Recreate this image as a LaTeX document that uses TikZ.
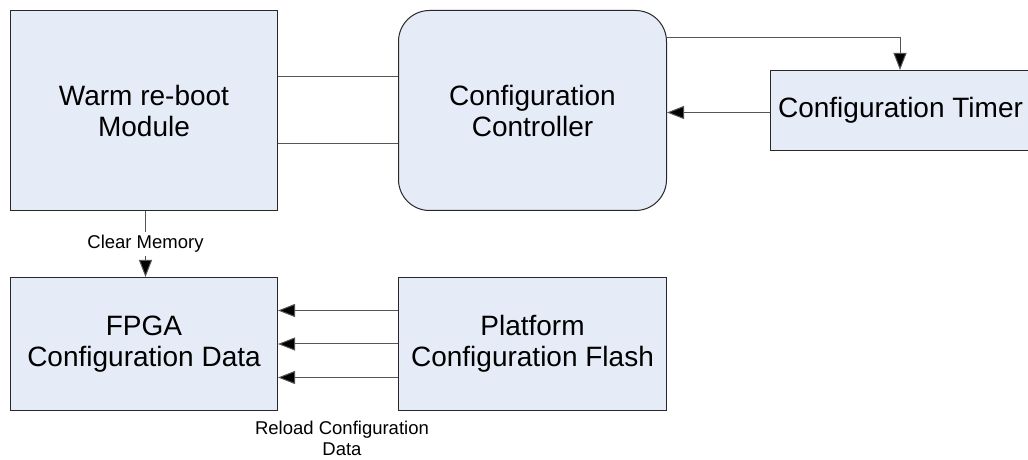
\documentclass[tikz,border=0pt]{standalone}
\usepackage{fontspec}
\setmainfont{Liberation Sans}
\usetikzlibrary{arrows.meta}
\definecolor{boxfill}{RGB}{230,236,247}
\definecolor{boxline}{RGB}{40,40,40}
\definecolor{wire}{RGB}{85,85,85}
\tikzset{
  blk/.style={draw=boxline, line width=1bp, fill=boxfill, anchor=north west, inner sep=0pt, align=center,
    font=\fontsize{28bp}{31bp}\selectfont},
  wirestyle/.style={draw=wire, line width=1bp},
  arr/.style={wirestyle, -{Triangle[length=17bp,width=13bp,fill=black]}},
  lbl/.style={font=\fontsize{18.5bp}{21bp}\selectfont, inner sep=1bp, align=center}
}
\begin{document}
\begin{tikzpicture}[x=1bp,y=-1bp]
\useasboundingbox (0,0) rectangle (1028,460);
\clip (0,0) rectangle (1028,460);
\fill[white] (0,0) rectangle (1028,460);
\node[blk, minimum width=267bp, minimum height=200bp] (warm) at (10,10) {Warm re-boot\\Module};
\node[blk, minimum width=268bp, minimum height=200bp, rounded corners=31bp] (ctrl) at (398,10) {Configuration\\Controller};
\node[blk, minimum width=260bp, minimum height=80bp] (timer) at (770,70) {Configuration Timer};
\node[blk, minimum width=267bp, minimum height=133bp] (fpga) at (10,277) {FPGA\\Configuration Data};
\node[blk, minimum width=268bp, minimum height=133bp] (flash) at (398,277) {Platform\\Configuration Flash};
\coordinate (tin) at (900,70);
% warm <-> controller
\draw[wirestyle] ([yshift=33.5bp]warm.east) -- ([yshift=33.5bp]ctrl.west);
\draw[wirestyle] ([yshift=-33.5bp]warm.east) -- ([yshift=-33.5bp]ctrl.west);
% controller -> timer
\draw[arr] ([yshift=73bp]ctrl.east) -| (tin);
% timer -> controller
\draw[arr] ([yshift=-2bp]timer.west) -- ([yshift=-2bp]ctrl.east |- timer.west);
% clear memory
\draw[arr] ([xshift=1.5bp]warm.south) -- ([xshift=1.5bp]fpga.north) node[lbl, midway, fill=white, inner ysep=3bp] (clr) {Clear Memory};
% reload
\draw[arr] ([yshift=33.5bp]flash.west) -- ([yshift=33.5bp]fpga.east);
\draw[arr] (flash.west) -- (fpga.east);
\draw[arr] ([yshift=-33.5bp]flash.west) -- ([yshift=-33.5bp]fpga.east);
\node[lbl, inner sep=0pt] (reload) at (342,438) {Reload Configuration\\Data};
\end{tikzpicture}
\end{document}
